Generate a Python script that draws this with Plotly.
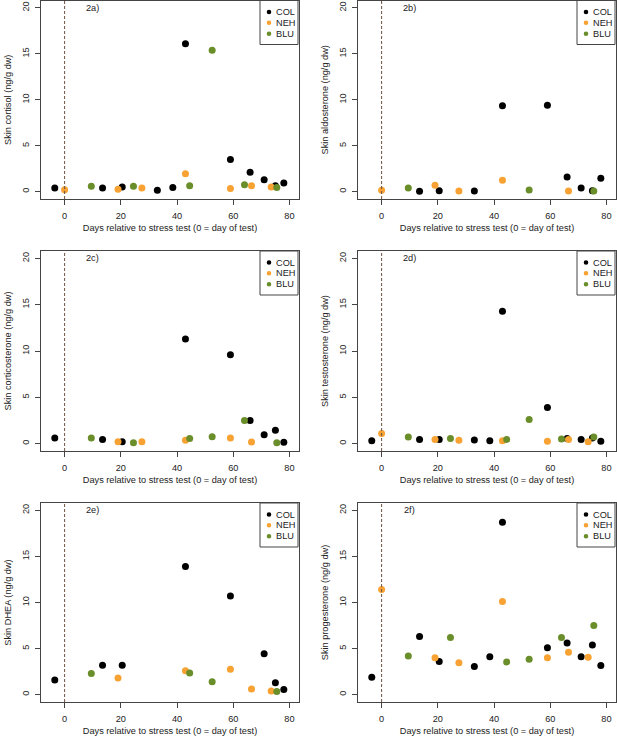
import plotly.graph_objects as go

# ---------------- data ----------------
groups = ["COL", "NEH", "BLU"]
colors = {"COL": "#000000", "NEH": "#F7A233", "BLU": "#6A8E2A"}

COL_days = [-3.5, 13.5, 20.5, 33, 38.5, 43, 59, 66, 71, 75, 78]
NEH_days = [0, 19, 27.5, 43, 59, 66.5, 73.5]
BLU_days = [9.5, 24.5, 44.5, 52.5, 64, 75.5]

panel_labels = ["2a)", "2b)", "2c)", "2d)", "2e)", "2f)"]
y_titles = [
    "Skin cortisol (ng/g dw)",
    "Skin aldosterone (ng/g dw)",
    "Skin corticosterone (ng/g dw)",
    "Skin testosterone (ng/g dw)",
    "Skin DHEA (ng/g dw)",
    "Skin progesterone (ng/g dw)",
]
x_title = "Days relative to stress test (0 = day of test)"

# cortisol
a_COL = [0.4, 0.4, 0.5, 0.15, 0.45, 16.1, 3.5, 2.1, 1.3, 0.65, 0.95]
a_NEH = [0.2, 0.25, 0.4, 1.95, 0.35, 0.65, 0.5]
a_BLU = [0.6, 0.6, 0.65, 15.4, 0.75, 0.45]
# aldosterone
b_COL = [None, 0.05, 0.1, 0.07, None, 9.35, 9.4, 1.6, 0.4, 0.1, 1.45]
b_NEH = [0.15, 0.7, 0.07, 1.25, None, 0.07, None]
b_BLU = [0.4, None, None, 0.18, None, 0.07]
# corticosterone
c_COL = [0.6, 0.45, 0.2, None, None, 11.3, 9.6, 2.5, 0.95, 1.45, 0.15]
c_NEH = [None, 0.2, 0.2, 0.35, 0.6, 0.18, None]
c_BLU = [0.6, 0.1, 0.55, 0.75, 2.5, 0.1]
# testosterone
d_COL = [0.3, 0.45, 0.45, 0.4, 0.3, 14.3, 3.9, 0.55, 0.45, 0.6, 0.25]
d_NEH = [1.1, 0.45, 0.35, 0.3, 0.25, 0.45, 0.2]
d_BLU = [0.7, 0.55, 0.45, 2.6, 0.5, 0.7]
# DHEA
e_COL = [1.6, 3.2, 3.2, None, None, 13.9, 10.7, None, 4.45, 1.3, 0.55]
e_NEH = [None, 1.8, None, 2.6, 2.75, 0.6, 0.4]
e_BLU = [2.3, None, 2.35, 1.4, None, 0.35]
# progesterone
f_COL = [1.9, 6.3, 3.6, 3.05, 4.1, 18.7, 5.1, 5.6, 4.1, 5.4, 3.15]
f_NEH = [11.4, 4.0, 3.45, 10.1, 4.0, 4.6, 4.05]
f_BLU = [4.2, 6.2, 3.55, 3.85, 6.2, 7.5]

x_ticks = [0, 20, 40, 60, 80]
y_ticks = [0, 5, 10, 15, 20]

panels = [
    (a_COL, a_NEH, a_BLU),
    (b_COL, b_NEH, b_BLU),
    (c_COL, c_NEH, c_BLU),
    (d_COL, d_NEH, d_BLU),
    (e_COL, e_NEH, e_BLU),
    (f_COL, f_NEH, f_BLU),
]
days = {"COL": COL_days, "NEH": NEH_days, "BLU": BLU_days}

# ---------------- layout geometry ----------------
W, H = 617, 738
col_px = [(41, 299), (358, 616)]
row_px = [(0.5, 199), (251, 451), (503, 702)]

FONT = "Liberation Sans, Arial, Helvetica, sans-serif"
FS = 9.2
AX = "#444444"
TXT = "#222222"

# legend box geometry (pixels, relative to panel's top-right corner)
LEG_W, LEG_H = 39, 44
LEG_MARK_DX, LEG_TEXT_DX = 30, 24.5    # distance from right edge
LEG_ROWS = [11.5, 22.3, 33.3]          # distance from top edge

fig = go.Figure()
layout = dict(
    width=W, height=H,
    margin=dict(l=0, r=0, t=0, b=0),
    paper_bgcolor="white", plot_bgcolor="white",
    font=dict(family=FONT, size=FS, color=TXT),
    showlegend=False,
)
shapes = []
annotations = []

for i, vals in enumerate(panels):
    r, c = divmod(i, 2)
    n = "" if i == 0 else str(i + 1)
    xa, ya = "x" + n, "y" + n
    x0, x1 = col_px[c]
    y0, y1 = row_px[r]
    pw, ph = x1 - x0, y1 - y0
    xdom = [x0 / W, x1 / W]
    ydom = [1 - y1 / H, 1 - y0 / H]

    for g, v in zip(groups, vals):
        xs = [d for d, yv in zip(days[g], v) if yv is not None]
        ys = [yv for yv in v if yv is not None]
        fig.add_trace(go.Scatter(
            x=xs, y=ys, mode="markers", name=g,
            marker=dict(color=colors[g], size=7, line=dict(width=0)),
            xaxis=xa, yaxis=ya,
        ))

    common = dict(
        showline=True, linecolor=AX, linewidth=1, mirror=True,
        ticks="outside", ticklen=5, tickcolor=AX, tickwidth=1,
        showgrid=False, zeroline=False,
        tickfont=dict(family=FONT, size=FS, color=TXT),
    )
    layout["xaxis" + n] = dict(
        common, domain=xdom, anchor=ya, range=[-8.4, 83.4],
        tickvals=x_ticks, ticklabelstandoff=3,
        title=dict(text=x_title, standoff=4,
                   font=dict(family=FONT, size=FS, color=TXT)),
    )
    layout["yaxis" + n] = dict(
        common, domain=ydom, anchor=xa, range=[-0.8, 20.8],
        tickvals=y_ticks, tickangle=-90, ticklabelstandoff=2,
        title=dict(text=y_titles[i], standoff=8,
                   font=dict(family=FONT, size=FS, color=TXT)),
    )
    # stress-test day reference line
    shapes.append(dict(
        type="line", xref=xa, yref=ya + " domain", x0=0, x1=0, y0=0, y1=1,
        line=dict(color="#6b5040", width=1, dash="3px,2px"),
    ))
    annotations.append(dict(
        x=10, y=20, xref=xa, yref=ya, text=panel_labels[i], showarrow=False,
        font=dict(family=FONT, size=FS, color=TXT),
    ))
    # legend (R-style compact box)
    xd, yd = xa + " domain", ya + " domain"
    shapes.append(dict(
        type="rect", xref=xd, yref=yd,
        x0=1 - LEG_W / pw, x1=1 - 1 / pw, y0=1 - LEG_H / ph, y1=1,
        line=dict(color=AX, width=1), fillcolor="white", layer="above",
    ))
    for g, dy in zip(groups, LEG_ROWS):
        yy = 1 - dy / ph
        shapes.append(dict(
            type="circle", xref=xd, yref=yd,
            xsizemode="pixel", ysizemode="pixel",
            xanchor=1 - LEG_MARK_DX / pw, yanchor=yy,
            x0=-2.3, x1=2.3, y0=-2.3, y1=2.3,
            fillcolor=colors[g], line=dict(width=0), layer="above",
        ))
        annotations.append(dict(
            x=1 - LEG_TEXT_DX / pw, y=yy, xref=xd, yref=yd, text=g,
            showarrow=False, xanchor="left", yanchor="middle", borderpad=0,
            font=dict(family=FONT, size=FS, color=TXT),
        ))

layout["shapes"] = shapes
layout["annotations"] = annotations
fig.update_layout(**layout)
fig.write_html("out.html", config={"displayModeBar": False},
               post_script="document.body.style.margin='0';")
